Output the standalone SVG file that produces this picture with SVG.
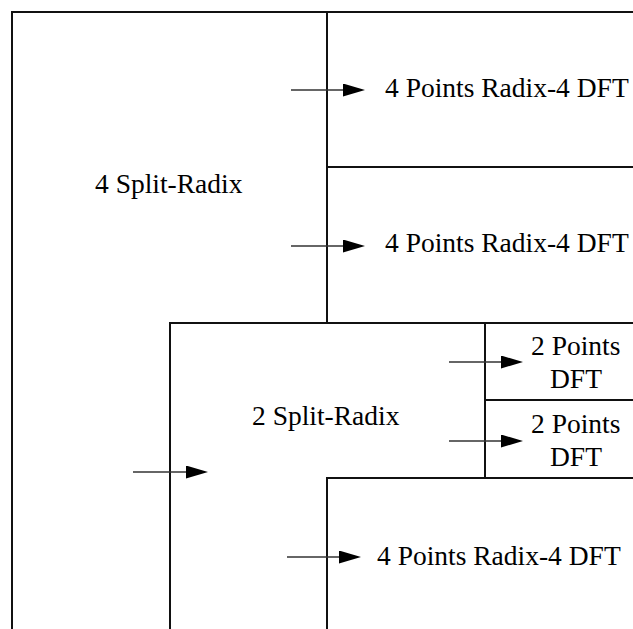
<svg xmlns="http://www.w3.org/2000/svg" width="633" height="629" viewBox="0 0 633 629">
  <style>
    .edge { stroke: #111; stroke-width: 2; fill: none; stroke-linecap: square; }
    .lbl { font-family: 'Liberation Serif', 'Times New Roman', 'DejaVu Serif', serif; font-size: 27.5px; fill: #000; }
    .arrow { stroke: #333; stroke-width: 1.3; fill: none; marker-end: url(#head); }
  </style>
  <defs>
    <marker id="head" markerUnits="userSpaceOnUse" markerWidth="23" markerHeight="14" refX="0" refY="6.5" orient="auto">
      <path d="M0,0 L22,6.5 L0,13 Z" fill="#000"/>
    </marker>
  </defs>
  <rect width="633" height="629" fill="#fff"/>

  <g id="node-4-split-radix">
    <path class="edge" d="M12,629 V12 H633 M327,12 V323"/>
    <text class="lbl" x="95" y="193">4 Split-Radix</text>
  </g>
  <g id="node-4pt-dft-1">
    <path class="edge" d="M327,167 H633"/>
    <text class="lbl" x="385" y="97">4 Points Radix-4 DFT</text>
  </g>
  <g id="node-4pt-dft-2">
    <text class="lbl" x="385" y="252">4 Points Radix-4 DFT</text>
  </g>
  <g id="node-2-split-radix">
    <path class="edge" d="M170,629 V323 H633 M485,323 V478"/>
    <text class="lbl" x="252" y="425">2 Split-Radix</text>
  </g>
  <g id="node-2pt-dft-1">
    <path class="edge" d="M485,400 H633"/>
    <text class="lbl" x="531" y="355">2 Points</text>
    <text class="lbl" x="550" y="388">DFT</text>
  </g>
  <g id="node-2pt-dft-2">
    <text class="lbl" x="531" y="433">2 Points</text>
    <text class="lbl" x="550" y="466">DFT</text>
  </g>
  <g id="node-4pt-dft-3">
    <path class="edge" d="M327,629 V478 H633"/>
    <text class="lbl" x="377" y="565">4 Points Radix-4 DFT</text>
  </g>

  <g id="connectors">
    <line class="arrow" x1="291" y1="90" x2="343" y2="90"/>
    <line class="arrow" x1="291" y1="246" x2="343" y2="246"/>
    <line class="arrow" x1="133" y1="472" x2="186" y2="472"/>
    <line class="arrow" x1="449" y1="362" x2="501" y2="362"/>
    <line class="arrow" x1="449" y1="441" x2="501" y2="441"/>
    <line class="arrow" x1="287" y1="557" x2="339" y2="557"/>
  </g>
</svg>
